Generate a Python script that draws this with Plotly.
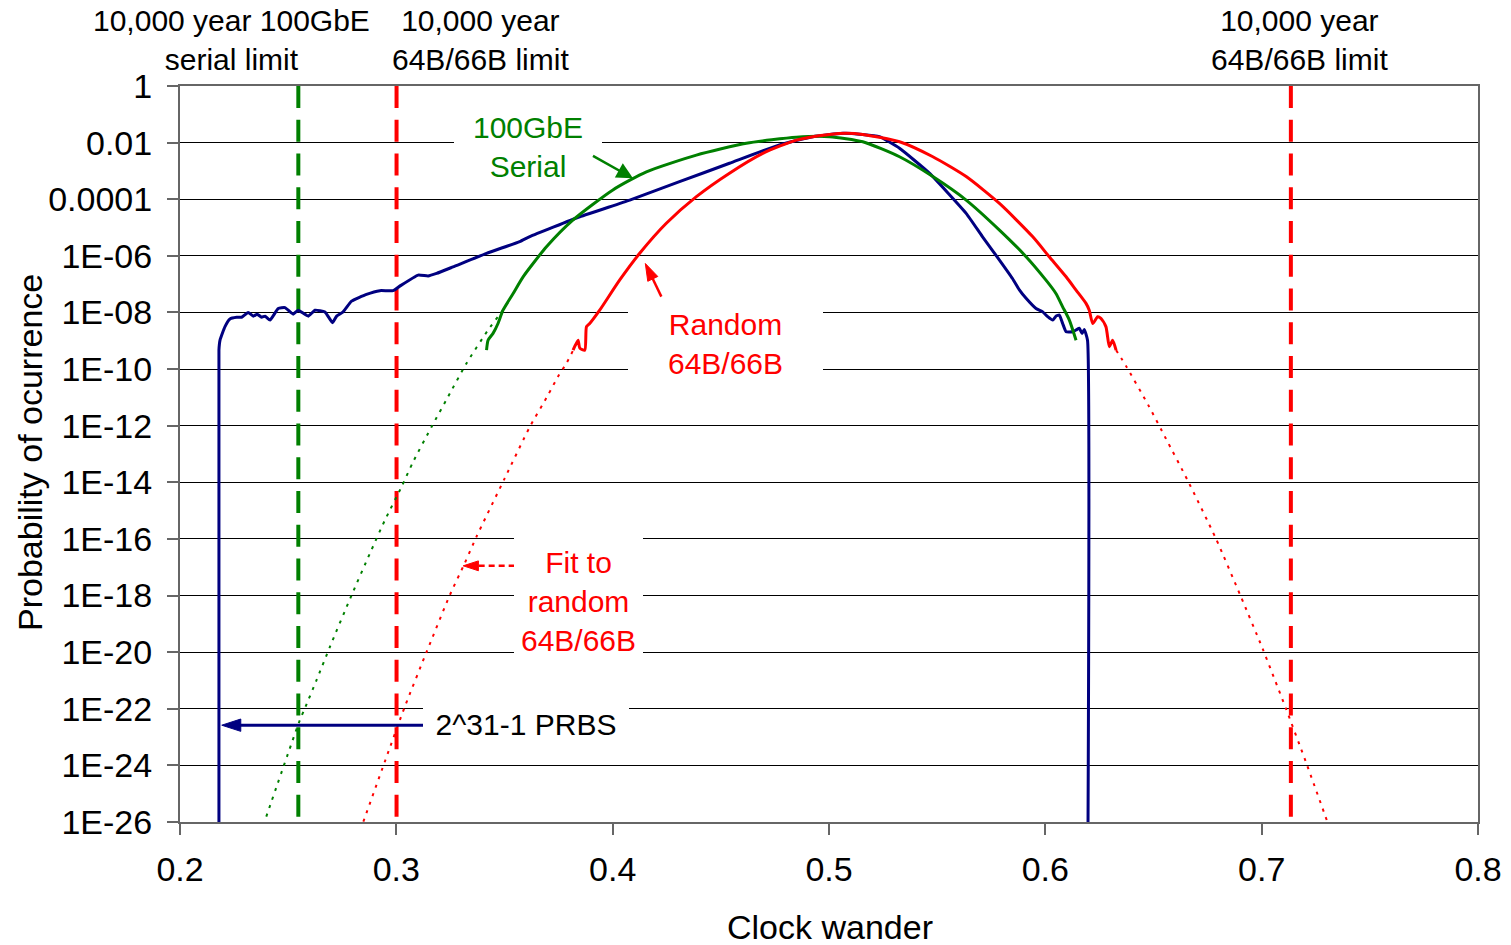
import plotly.graph_objects as go

FONT = "Liberation Sans, Arial, sans-serif"

# ---------------- data ----------------
x_tick_vals = [0.2, 0.3, 0.4, 0.5, 0.6, 0.7, 0.8]
x_tick_text = ["0.2", "0.3", "0.4", "0.5", "0.6", "0.7", "0.8"]
y_tick_exp = [0, -2, -4, -6, -8, -10, -12, -14, -16, -18, -20, -22, -24, -26]
y_tick_text = ["1", "0.01", "0.0001", "1E-06", "1E-08", "1E-10", "1E-12", "1E-14",
               "1E-16", "1E-18", "1E-20", "1E-22", "1E-24", "1E-26"]

# 2^31-1 PRBS (log10 of probability); -30 marks "zero" below the axis floor
prbs_x = [0.2180, 0.2180, 0.2185, 0.2208, 0.2231, 0.2262, 0.2285, 0.2315, 0.2339, 0.2357,
          0.2377, 0.2393, 0.2416, 0.2454, 0.2485, 0.2523, 0.2546, 0.2593, 0.2624, 0.2670,
          0.2705, 0.2724, 0.2754, 0.2793, 0.2862, 0.2924, 0.2985, 0.3016, 0.3101, 0.3147,
          0.3186, 0.3262, 0.3417, 0.3570, 0.3617, 0.3848, 0.4079, 0.4309, 0.4540, 0.4771,
          0.4925, 0.5064, 0.5155, 0.5233, 0.5326, 0.5464, 0.5634, 0.5709, 0.5788, 0.5848,
          0.5880, 0.5911, 0.5957, 0.5988, 0.6011, 0.6034, 0.6049, 0.6065, 0.6080, 0.6096,
          0.6126, 0.6142, 0.6157, 0.6170, 0.6180, 0.6195, 0.6195]
prbs_log = [-30, -9.33, -8.98, -8.50, -8.23, -8.17, -8.17, -8.00, -8.13, -8.06,
            -8.17, -8.13, -8.27, -7.86, -7.83, -8.06, -7.92, -8.13, -7.92, -7.98,
            -8.36, -8.13, -7.98, -7.60, -7.36, -7.23, -7.23, -7.07, -6.68, -6.71,
            -6.62, -6.39, -5.91, -5.50, -5.32, -4.62, -4.03, -3.38, -2.73, -2.08,
            -1.79, -1.67, -1.71, -1.79, -2.20, -3.08, -4.50, -5.32, -6.15, -6.80,
            -7.20, -7.50, -7.86, -7.98, -8.15, -8.27, -8.13, -8.09, -8.39, -8.68,
            -8.68, -8.62, -8.56, -8.74, -8.60, -8.98, -30]

# 100GbE serial
serial_x = [0.3417, 0.3424, 0.3447, 0.3470, 0.3493, 0.3540, 0.3586, 0.3694, 0.3817, 0.4001,
            0.4156, 0.4387, 0.4618, 0.4849, 0.5002, 0.5156, 0.5326, 0.5480, 0.5634, 0.5788,
            0.5911, 0.6003, 0.6049, 0.6080, 0.6111, 0.6142]
serial_log = [-9.33, -8.98, -8.74, -8.39, -7.92, -7.33, -6.74, -5.68, -4.73, -3.67,
              -3.03, -2.44, -2.02, -1.81, -1.79, -1.97, -2.50, -3.20, -4.03, -5.09,
              -6.03, -6.86, -7.33, -7.80, -8.27, -8.98]

# Random 64B/66B
random_x = [0.3817, 0.3840, 0.3848, 0.3871, 0.3879, 0.3894, 0.3940, 0.4032, 0.4125, 0.4248,
            0.4387, 0.4540, 0.4694, 0.4849, 0.5002, 0.5080, 0.5156, 0.5326, 0.5480, 0.5634,
            0.5788, 0.5941, 0.6018, 0.6096, 0.6142, 0.6188, 0.6203, 0.6219, 0.6242, 0.6257,
            0.6280, 0.6296, 0.6311, 0.6327]
random_log = [-9.33, -8.98, -9.26, -9.33, -8.50, -8.39, -7.92, -6.86, -5.91, -4.85,
              -3.91, -3.08, -2.38, -1.91, -1.71, -1.67, -1.71, -1.97, -2.50, -3.20,
              -4.15, -5.32, -6.03, -6.74, -7.21, -7.68, -7.92, -8.39, -8.15, -8.21,
              -8.50, -9.21, -8.98, -9.33]

# Fit to random 64B/66B (left and right tails)
fit_random_left_x = [0.3834, 0.3786, 0.3747, 0.3701, 0.3617, 0.3501, 0.3370, 0.3316, 0.3247,
                     0.3140, 0.3039, 0.2950, 0.2847]
fit_random_left_log = [-9.08, -9.80, -10.27, -10.92, -12.04, -13.86, -15.93, -16.86, -17.99,
                       -19.99, -21.93, -23.80, -26.0]
fit_random_right_x = [0.6327, 0.6373, 0.6480, 0.6557, 0.6657, 0.6788, 0.6904, 0.7004, 0.7112,
                      0.7204, 0.7304]
fit_random_right_log = [-9.33, -9.89, -11.33, -12.45, -13.92, -15.98, -18.04, -19.87, -21.99,
                        -23.87, -26.0]

# Fit to 100GbE serial (left tail)
fit_serial_x = [0.3493, 0.3470, 0.3424, 0.3324, 0.3239, 0.3163, 0.3078, 0.3024, 0.2947,
                0.2878, 0.2793, 0.2693, 0.2631, 0.2577, 0.2554, 0.2393]
fit_serial_log = [-7.92, -8.15, -8.62, -9.80, -10.98, -12.04, -13.27, -14.16, -15.34,
                  -16.51, -17.99, -19.81, -20.99, -21.99, -22.40, -25.94]

# 10,000 year limits
serial_limit_x = 0.2547
random_limit_left_x = 0.3001
random_limit_right_x = 0.7135

# ---------------- figure ----------------
def p(vals):
    return [10 ** v for v in vals]

NAVY = "#000080"
GREEN = "#008000"
RED = "#FF0000"

fig = go.Figure()

# vertical limit lines
for xv, col in [(serial_limit_x, GREEN), (random_limit_left_x, RED), (random_limit_right_x, RED)]:
    fig.add_trace(go.Scatter(x=[xv, xv], y=[1, 1e-26], mode="lines",
                             line=dict(color=col, width=4, dash="22px,11.75px"),
                             hoverinfo="skip"))

# fitted tails (dotted)
dotted = dict(width=2, dash="3px,6px", shape="spline", smoothing=0.6)
fig.add_trace(go.Scatter(x=fit_serial_x, y=p(fit_serial_log), mode="lines",
                         line=dict(color=GREEN, **dotted)))
fig.add_trace(go.Scatter(x=fit_random_left_x, y=p(fit_random_left_log), mode="lines",
                         line=dict(color=RED, **dotted)))
fig.add_trace(go.Scatter(x=fit_random_right_x, y=p(fit_random_right_log), mode="lines",
                         line=dict(color=RED, **dotted)))

# measured distributions
fig.add_trace(go.Scatter(x=prbs_x, y=p(prbs_log), mode="lines",
                         line=dict(color=NAVY, width=3, shape="spline", smoothing=0.4)))
fig.add_trace(go.Scatter(x=serial_x, y=p(serial_log), mode="lines",
                         line=dict(color=GREEN, width=3, shape="spline", smoothing=0.6)))
fig.add_trace(go.Scatter(x=random_x, y=p(random_log), mode="lines",
                         line=dict(color=RED, width=3, shape="spline", smoothing=0.6)))

# label boxes (white, hide grid lines)
box = dict(bgcolor="white", borderpad=0, borderwidth=0, showarrow=False,
           xref="x", yref="y")
annotations = [
    dict(text="100GbE<br>Serial", x=0.3607, y=-2.155, width=148, height=80,
         font=dict(family=FONT, size=30, color=GREEN)),
    dict(text="Random<br>64B/66B", x=0.4522, y=-9.12, width=195, height=80,
         font=dict(family=FONT, size=30, color=RED)),
    dict(text="Fit to<br>random<br>64B/66B", x=0.3843, y=-18.2, width=129, height=130,
         font=dict(family=FONT, size=30, color=RED)),
    dict(text="2^31-1 PRBS", x=0.3598, y=-22.54, width=206, height=40,
         font=dict(family=FONT, size=30, color="black")),
]
anns = []
for a in annotations:
    d = dict(box)
    d.update(a)
    anns.append(d)

# green arrow drawn as an annotation so it sits above the label box
anns.append(dict(text="", x=0.4094, y=-3.26, xref="x", yref="y",
                 ax=0.3902, ay=-2.44, axref="x", ayref="y",
                 showarrow=True, arrowhead=2, arrowsize=1.3, arrowwidth=2.5,
                 arrowcolor=GREEN, standoff=0))

# top labels
top = [("10,000 year 100GbE<br>serial limit", 0.2236),
       ("10,000 year<br>64B/66B limit", 0.3390),
       ("10,000 year<br>64B/66B limit", 0.7173)]
for t, xv in top:
    anns.append(dict(text=t, x=xv, xref="x", y=1.0630, yref="paper", yanchor="middle",
                     showarrow=False, font=dict(family=FONT, size=30, color="black")))

# axis titles
anns.append(dict(text="Clock wander", x=0.5008, xref="paper", y=-0.1427, yref="paper",
                 xanchor="center", yanchor="middle", showarrow=False,
                 font=dict(family=FONT, size=34, color="black")))
anns.append(dict(text="Probability of ocurrence", x=-0.1156, xref="paper", y=0.5027,
                 yref="paper", xanchor="center", yanchor="middle", textangle=-90,
                 showarrow=False, font=dict(family=FONT, size=34, color="black")))

# arrows
def arrow(x0, y0, x1, y1, col, width, dash="solid", size=22):
    fig.add_trace(go.Scatter(x=[x0, x1], y=[10 ** y0, 10 ** y1], mode="lines+markers",
                             line=dict(color=col, width=width, dash=dash),
                             marker=dict(symbol="arrow", size=[0, size], color=col, opacity=1,
                                         angleref="previous", line=dict(width=1, color=col)),
                             hoverinfo="skip"))

arrow(0.3132, -22.58, 0.2193, -22.58, NAVY, 3, size=20)
arrow(0.4225, -7.44, 0.4151, -6.27, RED, 2.5, size=18)
arrow(0.3547, -16.95, 0.3309, -16.95, RED, 2.5, dash="6px,4px", size=16)

fig.update_layout(
    width=1511, height=945,
    margin=dict(l=180, r=33, t=86, b=123),
    plot_bgcolor="white", paper_bgcolor="white",
    showlegend=False,
    font=dict(family=FONT, size=34, color="black"),
    annotations=anns,
    xaxis=dict(range=[0.2, 0.8], tickvals=x_tick_vals, ticktext=x_tick_text,
               ticks="outside", ticklen=11, tickwidth=2, tickcolor="#666",
               showline=True, linecolor="#666", linewidth=2, mirror=True,
               showgrid=False, zeroline=False, ticklabelstandoff=5, automargin=False,
               tickfont=dict(family=FONT, size=34)),
    yaxis=dict(type="log", range=[-26, 0], tickvals=[10 ** e for e in y_tick_exp],
               ticktext=y_tick_text, ticks="outside", ticklen=11, tickwidth=2, tickcolor="#666",
               showline=True, linecolor="#666", linewidth=2, mirror=True,
               showgrid=True, gridcolor="black", gridwidth=1, zeroline=False,
               ticklabelstandoff=8, automargin=False, tickfont=dict(family=FONT, size=34)),
)

fig.write_html("out.html")
